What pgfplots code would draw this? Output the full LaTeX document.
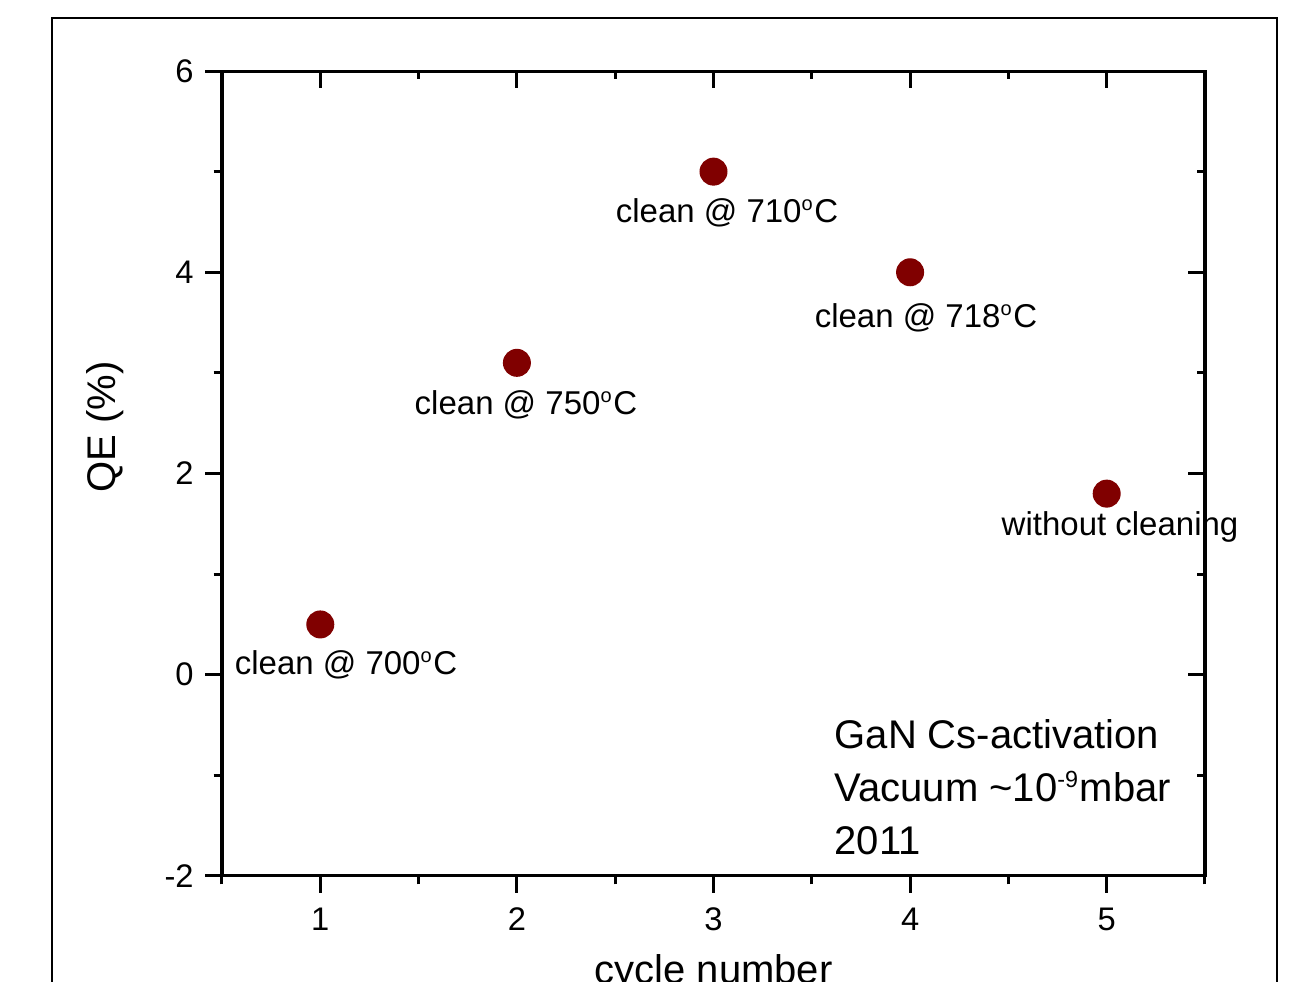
\documentclass[border=0pt]{standalone}
\usepackage{pgfplots}
\pgfplotsset{compat=1.18}
\usepackage{fontspec}
\setmainfont{Liberation Sans}

\definecolor{dotred}{RGB}{128,0,0}
\newcommand{\dg}{\textsuperscript{\fontsize{6}{6}\selectfont o}}

\begin{document}
\begin{tikzpicture}[x=1pt,y=1pt]
\useasboundingbox (-66.6,-31.8) rectangle (325.2,262.8);
\clip (-66.6,-31.8) rectangle (325.2,262.8);
\draw[line width=0.45pt] (-51,257.4) rectangle (316.5,-45);
% lower/left ticks outside, with labels
\begin{axis}[
    at={(0,0)}, anchor=south west,
    scale only axis, width=294.9pt, height=241.5pt,
    xmin=0.5, xmax=5.5, ymin=-2, ymax=6,
    xtick={1,2,3,4,5}, ytick={-2,0,2,4,6},
    minor xtick={0.5,1.5,2.5,3.5,4.5,5.5}, minor ytick={-1,1,3,5},
    xtick pos=bottom, ytick pos=left, tick align=outside,
    major tick length=5pt, minor tick length=2.5pt,
    axis line style={line width=0.9pt},
    every tick/.style={black, line width=0.9pt},
    /pgf/number format/assume math mode=true,
    ticklabel style={font=\fontsize{9.8}{11}\selectfont},
    xticklabel style={yshift=-1pt},
    xlabel={cycle number}, ylabel={QE (\%)},
    label style={font=\fontsize{12}{14}\selectfont},
    xlabel style={at={(rel axis cs:0.5,0)}, anchor=base, yshift=-32.4pt},
    ylabel style={at={(rel axis cs:0,0.558)}, anchor=center, yshift=35.1pt},
    clip=false,
]
\addplot[only marks, mark=*, mark size=4pt, color=dotred, fill=dotred]
    coordinates {(1,0.5) (2,3.1) (3,5.0) (4,4.0) (5,1.8)};
\node[font=\fontsize{9.9}{11}\selectfont] at (axis cs:1.131,0.10) {clean @ 700\dg C};
\node[font=\fontsize{9.9}{11}\selectfont] at (axis cs:2.046,2.68) {clean @ 750\dg C};
\node[font=\fontsize{9.9}{11}\selectfont] at (axis cs:3.069,4.59) {clean @ 710\dg C};
\node[font=\fontsize{9.9}{11}\selectfont] at (axis cs:4.081,3.55) {clean @ 718\dg C};
\node[font=\fontsize{9.9}{11}\selectfont] at (axis cs:5.068,1.47) {without cleaning};
\node[anchor=north west, align=left, inner sep=0pt, font=\fontsize{12}{15.9}\selectfont]
    at (axis cs:3.613,-0.44) {GaN Cs-activation\\Vacuum \textasciitilde10\textsuperscript{\fontsize{7}{7}\selectfont -9}mbar\\2011};
\end{axis}
% upper/right ticks inside, no labels
\begin{axis}[
    at={(0,0)}, anchor=south west,
    scale only axis, width=294.9pt, height=241.5pt,
    xmin=0.5, xmax=5.5, ymin=-2, ymax=6,
    xtick={1,2,3,4,5}, ytick={-2,0,2,4,6},
    minor xtick={0.5,1.5,2.5,3.5,4.5,5.5}, minor ytick={-1,1,3,5},
    xtick pos=top, ytick pos=right, tick align=inside,
    major tick length=5pt, minor tick length=2.5pt,
    axis line style={line width=0.9pt},
    every tick/.style={black, line width=0.9pt},
    xticklabels={}, yticklabels={},
]
\end{axis}
\end{tikzpicture}
\end{document}
